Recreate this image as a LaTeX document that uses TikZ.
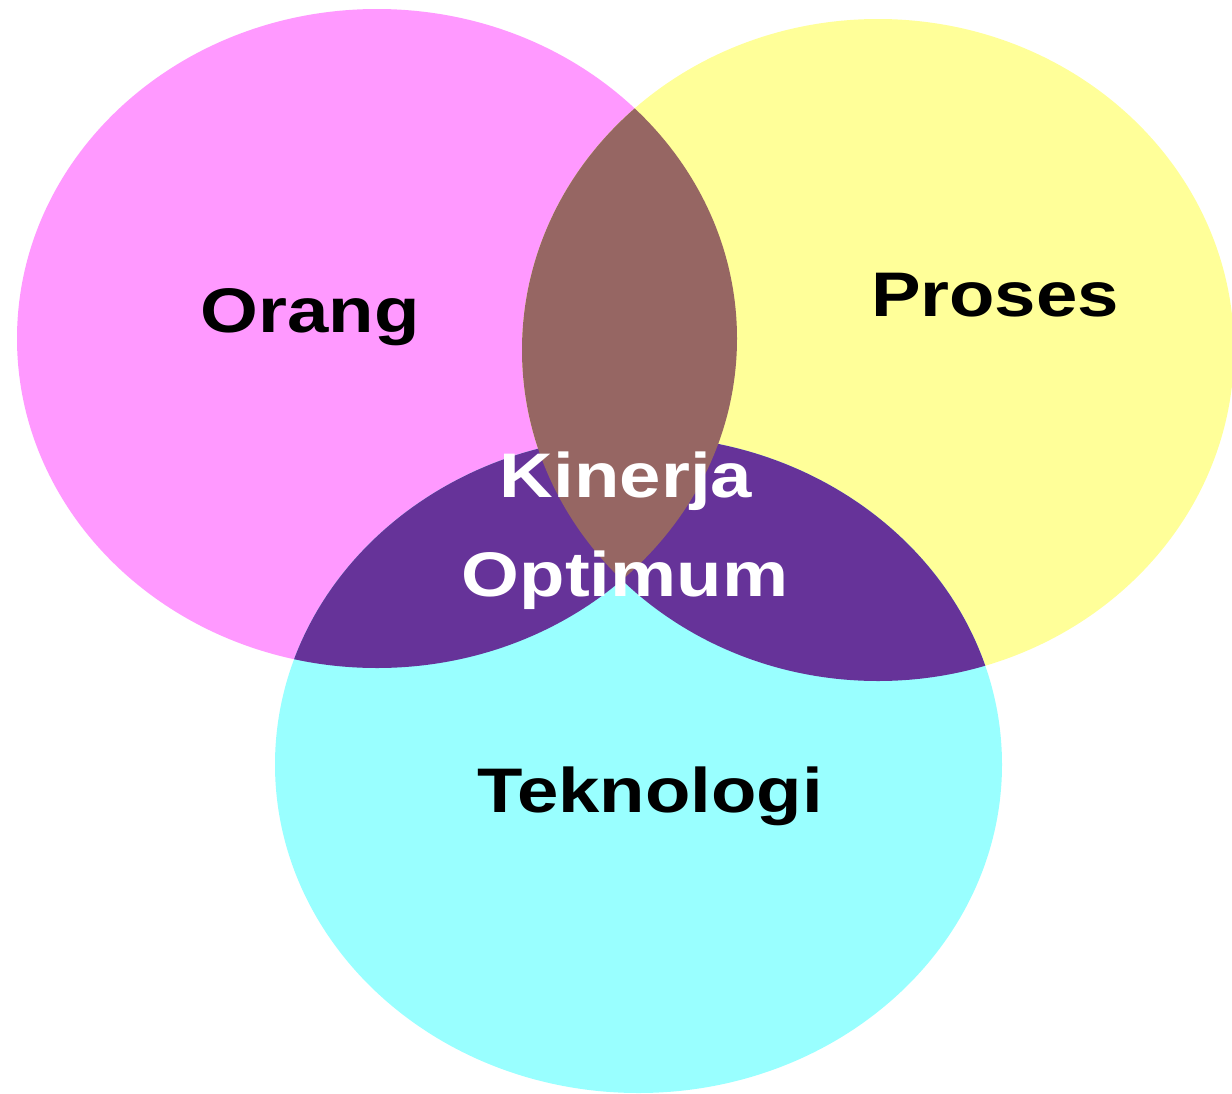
\documentclass[tikz,border=0pt]{standalone}
\usepackage{fontspec}
\newfontfamily\lblfont{Liberation Sans}[FakeStretch=1.18]
\definecolor{orangfill}{HTML}{FF99FF}
\definecolor{prosesfill}{HTML}{FFFF99}
\definecolor{teknofill}{HTML}{99FFFF}
\definecolor{duafill}{HTML}{663399}
\definecolor{intifill}{HTML}{966663}
% the three set outlines
\def\pinkpath{(377,338.5) ellipse [x radius=360pt, y radius=329.5pt]}
\def\yellowpath{(878,350) ellipse [x radius=356pt, y radius=331pt]}
\def\cyanpath{(638.5,764.5) ellipse [x radius=363.5pt, y radius=328.5pt]}
\tikzset{
  label/.style={font=\lblfont\bfseries\fontsize{63}{75}\selectfont, anchor=base, inner sep=0pt},
  dark/.style={label, text=black},
  light/.style={label, text=white}
}
\begin{document}
\begin{tikzpicture}[x=1pt, y=-1pt]
\useasboundingbox (0,0) rectangle (1232,1093);
% the three sets
\fill[orangfill] \pinkpath;
\fill[prosesfill] \yellowpath;
\fill[teknofill] \cyanpath;
% pairwise overlaps with Teknologi
\begin{scope}
  \clip \cyanpath;
  \fill[duafill] \pinkpath;
  \fill[duafill] \yellowpath;
\end{scope}
% overlap of Orang and Proses (includes the common centre)
\begin{scope}
  \clip \pinkpath;
  \fill[intifill] \yellowpath;
\end{scope}
% labels
\node[dark] (orang) at (310,332) {Orang};
\node[dark] (proses) at (995,316) {Proses};
\node[dark] (teknologi) at (650,812) {Teknologi};
\node[light] (kinerja) at (626,497) {Kinerja};
\node[light] (optimum) at (625,596) {Optimum};
\end{tikzpicture}
\end{document}
